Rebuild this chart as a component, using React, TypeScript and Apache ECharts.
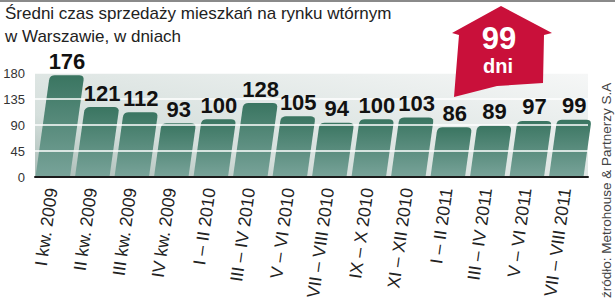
import React, { useEffect, useRef } from "react";
import * as echarts from "echarts";

const categories = [
  "I kw. 2009",
  "II kw. 2009",
  "III kw. 2009",
  "IV kw. 2009",
  "I – II 2010",
  "III – IV 2010",
  "V – VI 2010",
  "VII – VIII 2010",
  "IX – X 2010",
  "XI – XII 2010",
  "I – II 2011",
  "III – IV 2011",
  "V – VI 2011",
  "VII – VIII 2011",
];
const values = [176, 121, 112, 93, 100, 128, 105, 94, 100, 103, 86, 89, 97, 99];
const yMin = 0;
const yMax = 180;
const yStep = 45;
const titleLines = ["Średni czas sprzedaży mieszkań na rynku wtórnym", "w Warszawie, w dniach"];
const unitText = "dni";
const sourceText = "źródło: Metrohouse & Partnerzy S.A";

const SKEW = 0.14;
const FONT = "'Liberation Sans', Arial, sans-serif";
const NARROW = "'Liberation Sans Narrow', 'Liberation Sans', Arial, sans-serif";

function quadPts(a: number[], c: number[], b: number[], n: number) {
  const pts: number[][] = [];
  for (let k = 0; k <= n; k++) {
    const t = k / n;
    const u = 1 - t;
    pts.push([
      u * u * a[0] + 2 * u * t * c[0] + t * t * b[0],
      u * u * a[1] + 2 * u * t * c[1] + t * t * b[1],
    ]);
  }
  return pts;
}

function barGeom(api: any) {
  const i = api.value(0);
  const v = api.value(1);
  const base = api.coord([i, 0]);
  const top = api.coord([i, v]);
  const band = api.size([1, 0])[0];
  const x0 = base[0] - band / 2 + 0.5;
  const x1 = base[0] + band / 2 - 4.5;
  const yb = base[1];
  const yt = top[1];
  const h = yb - yt;
  const dx = SKEW * h;
  return { i, v, x0, x1, yb, yt, h, dx };
}

export default function App() {
  const ref = useRef<HTMLDivElement>(null);
  useEffect(() => {
    document.body.style.margin = "0";
    const chart = echarts.init(ref.current!, null, { renderer: "svg" });
    const barFill = () =>
      new echarts.graphic.LinearGradient(0, 0, 0, 1, [
        { offset: 0, color: "#3a7561" },
        { offset: 1, color: "#78a399" },
      ]);
    const data = values.map((v, i) => [i, v]);
    const option: any = {
      animation: false,
      backgroundColor: "#ffffff",
      title: {
        text: titleLines.join("\n"),
        left: 5,
        top: 2,
        padding: 0,
        textStyle: {
          fontFamily: FONT,
          fontSize: 17,
          fontWeight: "normal",
          color: "#222",
          lineHeight: 23,
        },
      },
      grid: {
        left: 35,
        right: 27,
        top: 73,
        bottom: 123,
        show: true,
        borderWidth: 0,
        backgroundColor: new echarts.graphic.LinearGradient(0, 1, 1, 0, [
          { offset: 0, color: "#a9bcb6" },
          { offset: 0.3, color: "#d5dfdc" },
          { offset: 1, color: "#f6f7f7" },
        ]),
      },
      xAxis: {
        type: "category",
        data: categories,
        boundaryGap: true,
        z: 10,
        axisLine: { show: true, lineStyle: { color: "#1a1a1a", width: 2 } },
        axisTick: { show: false },
        axisLabel: { show: false },
        splitLine: { show: false },
      },
      yAxis: {
        type: "value",
        min: yMin,
        max: yMax,
        interval: yStep,
        z: 10,
        axisLine: { show: false },
        axisTick: { show: false },
        axisLabel: {
          color: "#333",
          fontFamily: FONT,
          fontSize: 13,
          margin: 10,
        },
        splitLine: { show: true, lineStyle: { color: "#ffffff", width: 1.5 } },
      },
      series: [
        {
          type: "custom",
          data,
          z: 2,
          clip: false,
          renderItem: (params: any, api: any) => {
            const { i, x0, x1, yb, yt, h, dx } = barGeom(api);
            const r = 5;
            const tl = [x0 + dx, yt];
            const tr = [x1 + dx, yt];
            const pts: number[][] = [[x0, yb]];
            pts.push(...quadPts([x0 + SKEW * (h - r), yt + r], tl, [tl[0] + r, yt], 5));
            pts.push(...quadPts([tr[0] - r, yt], tr, [x1 + SKEW * (h - r), yt + r], 5));
            pts.push([x1, yb]);
            return {
              type: "group",
              children: [
                {
                  type: "polygon",
                  shape: { points: pts },
                  style: { fill: barFill() },
                },
                {
                  type: "text",
                  x: (x0 + x1) / 2 - 1,
                  y: yb + 11,
                  rotation: (82 * Math.PI) / 180,
                  style: {
                    text: categories[i],
                    fill: "#222",
                    font: `17.5px ${FONT}`,
                    align: "right",
                    verticalAlign: "middle",
                  },
                },
              ],
            };
          },
        },
        {
          type: "custom",
          data,
          z: 20,
          clip: false,
          renderItem: (params: any, api: any) => {
            const { v, x0, x1, yt, dx } = barGeom(api);
            return {
              type: "text",
              x: (x0 + x1) / 2 + dx,
              y: yt - 3,
              style: {
                text: String(v),
                fill: "#111",
                font: `bold 22px ${NARROW}`,
                align: "center",
                verticalAlign: "bottom",
              },
            };
          },
        },
      ],
      graphic: [
        {
          type: "rect",
          shape: { x: 0, y: 0, width: 615, height: 2 },
          style: { fill: "#8a8a8a" },
        },
        {
          type: "polygon",
          z: 20,
          shape: {
            points: [
              [501, 6],
              [552, 33],
              [544, 35],
              [543, 83],
              [497, 86],
              [454, 97],
              [459, 35],
              [452, 33],
            ],
          },
          style: { fill: "#c9103a" },
        },
        {
          type: "text",
          z: 21,
          x: 499,
          y: 38,
          style: {
            text: String(values[values.length - 1]),
            fill: "#ffffff",
            font: `bold 31px ${FONT}`,
            align: "center",
            verticalAlign: "middle",
          },
        },
        {
          type: "text",
          z: 21,
          x: 498,
          y: 66,
          style: {
            text: unitText,
            fill: "#ffffff",
            font: `bold 20px ${FONT}`,
            align: "center",
            verticalAlign: "middle",
          },
        },
        {
          type: "text",
          z: 21,
          x: 606,
          y: 298,
          rotation: Math.PI / 2,
          style: {
            text: sourceText,
            fill: "#444",
            font: `13.5px ${FONT}`,
            align: "left",
            verticalAlign: "middle",
          },
        },
      ],
    };
    chart.setOption(option);
    return () => chart.dispose();
  }, []);
  return <div ref={ref} style={{ width: 615, height: 300 }} />;
}
